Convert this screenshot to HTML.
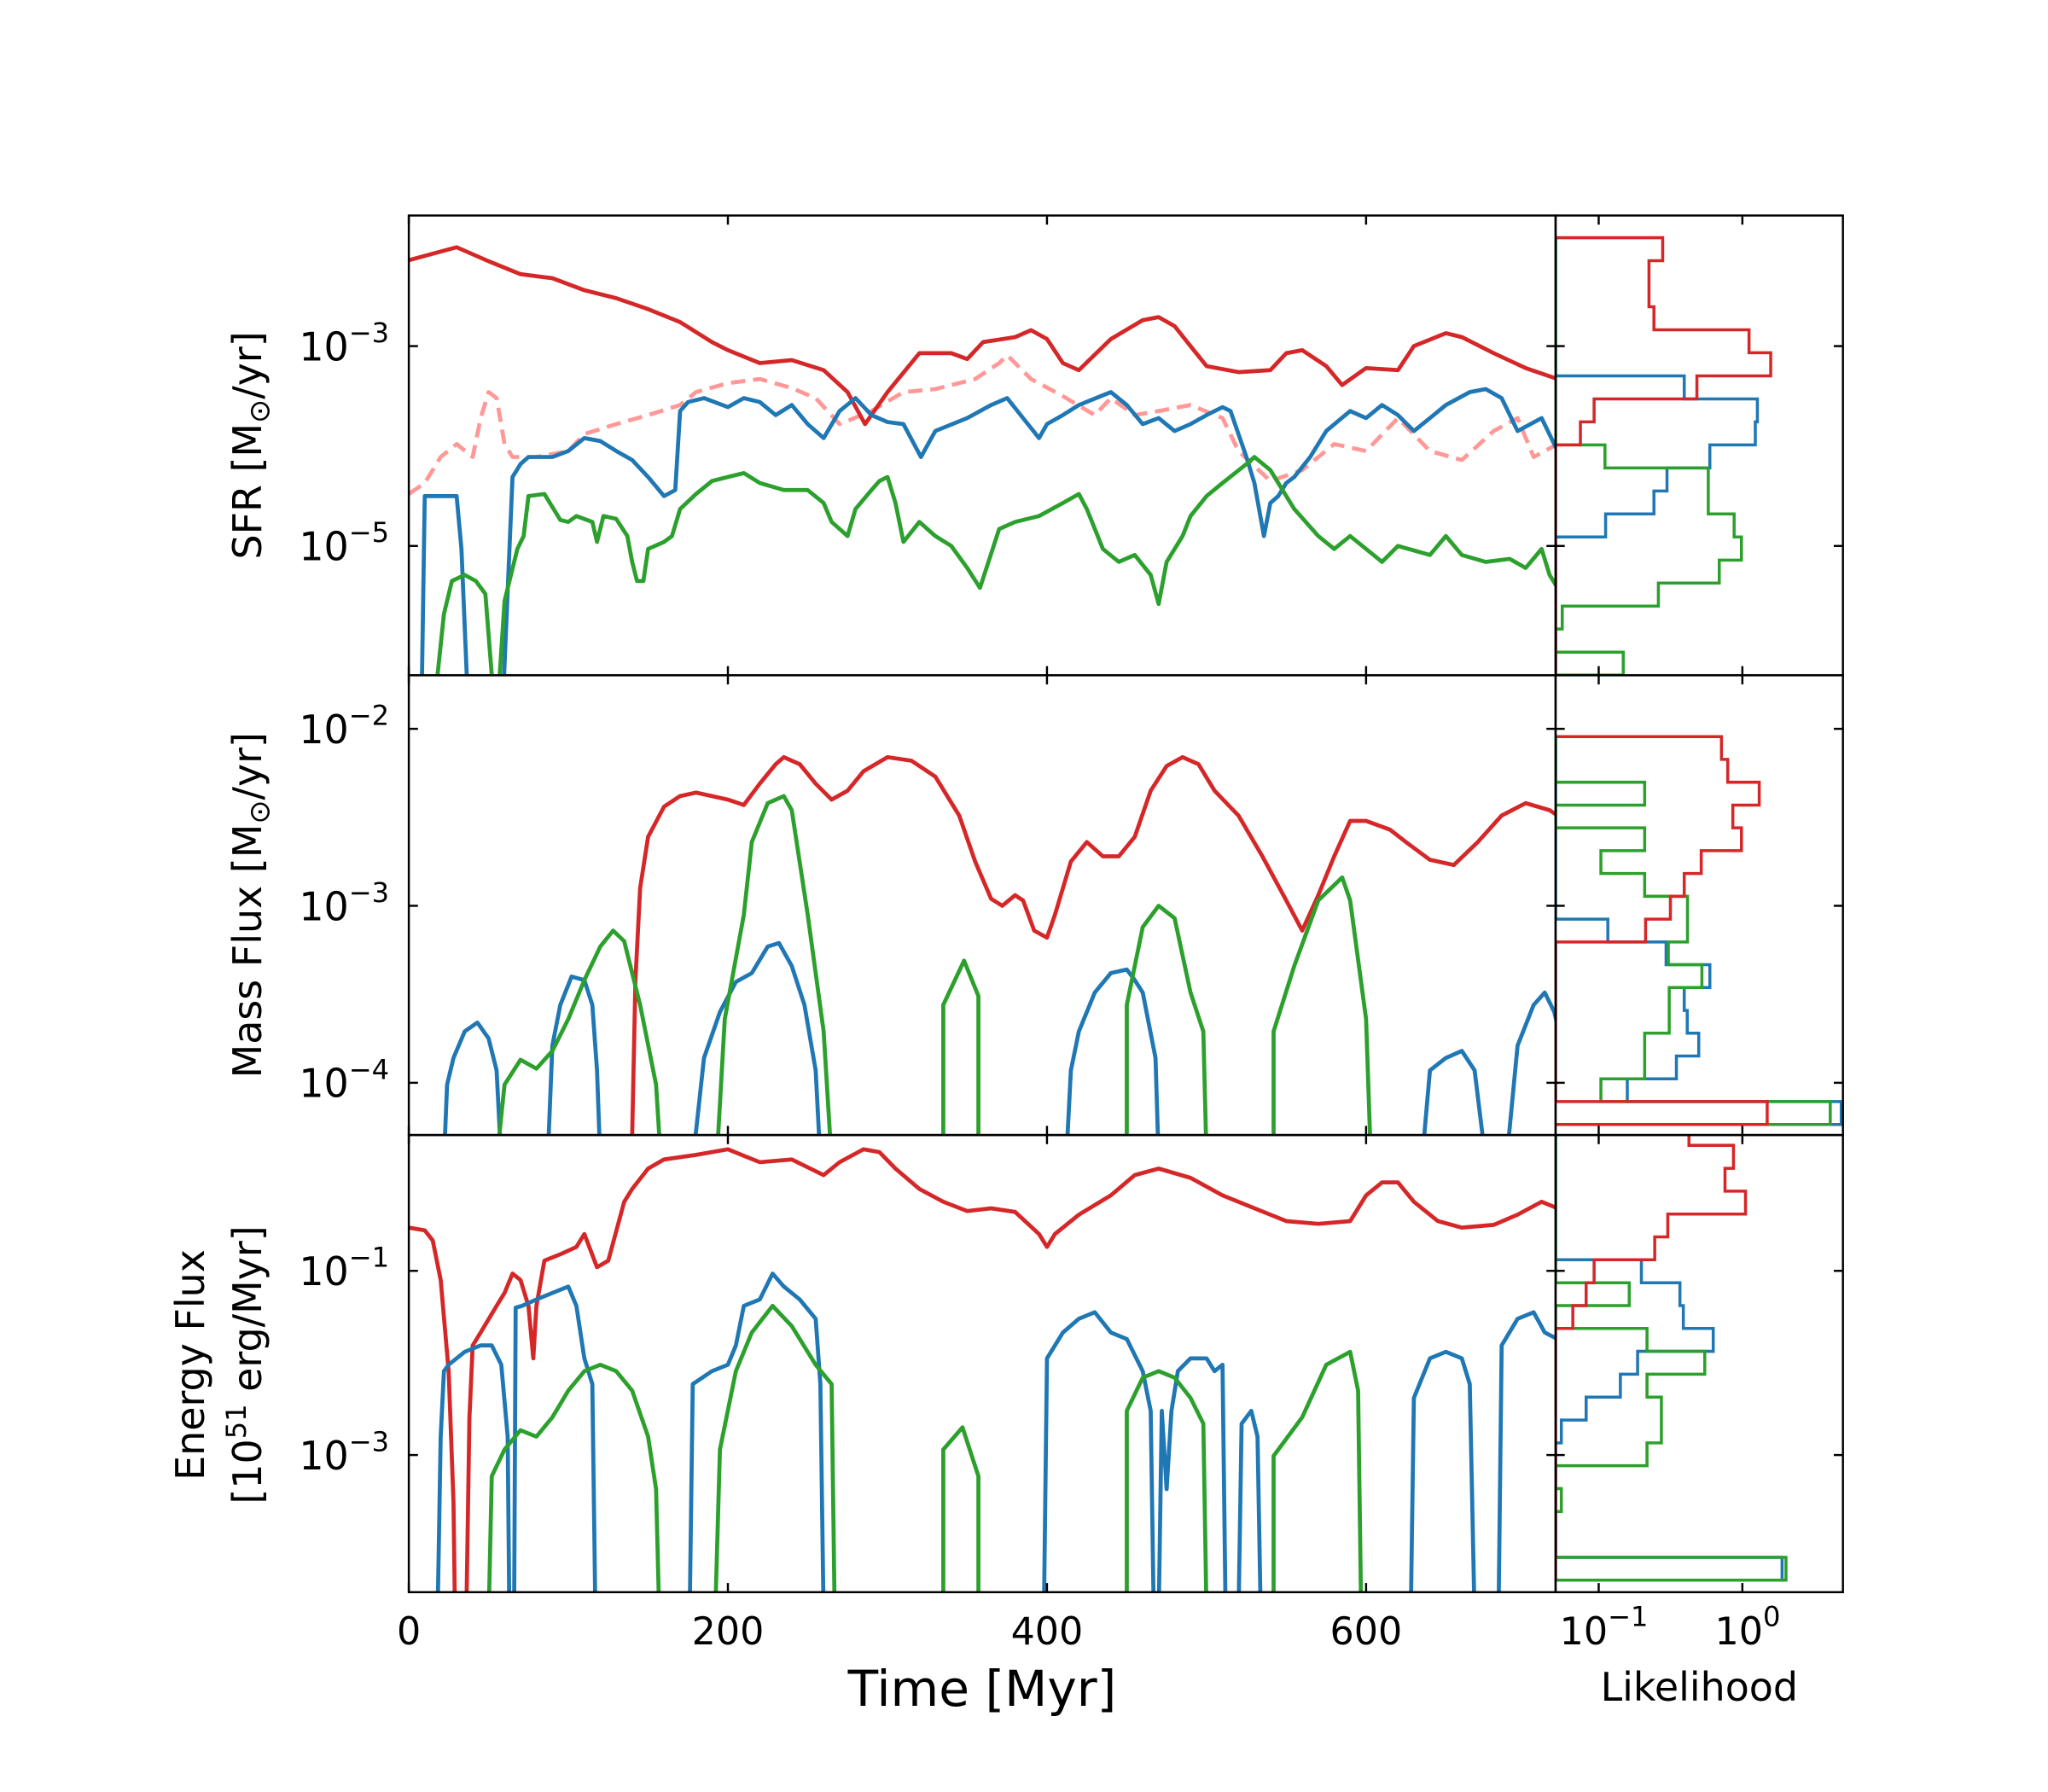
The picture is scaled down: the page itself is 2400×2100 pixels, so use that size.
<!DOCTYPE html>
<html><head><meta charset="utf-8"><style>
html,body{margin:0;padding:0;background:#fff;}
svg{display:block;}
text{font-family:"DejaVu Sans","Liberation Sans",sans-serif;fill:#000;}
</style></head><body>
<svg id="chart" xmlns="http://www.w3.org/2000/svg" width="2400" height="2100" viewBox="0 0 1568 1372" preserveAspectRatio="none">
<defs>
<clipPath id="c1"><rect x="313" y="165" width="878" height="352"/></clipPath>
<clipPath id="c2"><rect x="313" y="517" width="878" height="352"/></clipPath>
<clipPath id="c3"><rect x="313" y="869" width="878" height="350"/></clipPath>
<clipPath id="h1"><rect x="1191" y="165" width="220" height="352"/></clipPath>
<clipPath id="h2"><rect x="1191" y="517" width="220" height="352"/></clipPath>
<clipPath id="h3"><rect x="1191" y="869" width="220" height="350"/></clipPath>
</defs>
<g id="marks"></g>
<g id="axes"></g>
<g id="labels">
<text x="0" y="0" font-size="30" text-anchor="middle" transform="translate(200,341) rotate(-90)">SFR [M<tspan font-size="22" dy="6">⊙</tspan><tspan dy="-6">/yr]</tspan></text>
<text x="0" y="0" font-size="30" text-anchor="middle" transform="translate(200,693) rotate(-90)">Mass Flux [M<tspan font-size="22" dy="6">⊙</tspan><tspan dy="-6">/yr]</tspan></text>
<text x="0" y="0" font-size="30" text-anchor="middle" transform="translate(156,1045) rotate(-90)">Energy Flux</text>
<text x="0" y="0" font-size="30" text-anchor="middle" transform="translate(200,1045) rotate(-90)">[10<tspan font-size="21" dy="-12">51</tspan><tspan dy="12"> erg/Myr]</tspan></text>
<text x="752" y="1306" font-size="38" text-anchor="middle">Time [Myr]</text>
<text x="1301" y="1302" font-size="30" text-anchor="middle">Likelihood</text>
</g>
</svg>
<script>
// ---------- data (log10 values) ----------
const sfrRed=[[0,-2.14],[30,-2.01],[50,-2.15],[70,-2.28],[90,-2.32],[110,-2.44],[130,-2.52],[150,-2.63],[170,-2.76],[190,-2.96],[200,-3.04],[220,-3.17],[240,-3.14],[260,-3.24],[275,-3.46],[286,-3.78],[300,-3.46],[320,-3.07],[340,-3.07],[350,-3.13],[360,-2.96],[380,-2.91],[390,-2.84],[400,-2.93],[410,-3.17],[420,-3.24],[440,-2.93],[460,-2.74],[470,-2.71],[480,-2.80],[490,-3.00],[500,-3.20],[520,-3.26],[540,-3.24],[550,-3.07],[560,-3.04],[575,-3.20],[585,-3.39],[600,-3.22],[620,-3.24],[630,-3.00],[650,-2.87],[660,-2.91],[680,-3.07],[700,-3.22],[720,-3.33]];
const sfrPink=[[0,-4.48],[10,-4.37],[20,-4.11],[30,-3.98],[40,-4.11],[45,-3.72],[50,-3.46],[55,-3.52],[60,-3.98],[65,-4.11],[80,-4.11],[100,-4.05],[110,-3.88],[130,-3.78],[150,-3.69],[170,-3.59],[180,-3.46],[200,-3.37],[220,-3.33],[240,-3.42],[255,-3.52],[270,-3.78],[290,-3.65],[310,-3.46],[330,-3.43],[340,-3.39],[355,-3.33],[370,-3.17],[375,-3.09],[390,-3.33],[410,-3.50],[430,-3.69],[440,-3.52],[455,-3.69],[470,-3.65],[490,-3.59],[510,-3.72],[520,-4.05],[540,-4.35],[560,-4.24],[580,-3.98],[600,-4.05],[620,-3.72],[640,-4.05],[660,-4.14],[680,-3.85],[695,-3.72],[705,-4.11],[720,-3.98]];
const sfrBlue=[[8,-9],[10,-4.50],[30,-4.50],[33,-5.03],[37,-9],[59,-9],[65,-4.31],[70,-4.18],[75,-4.11],[90,-4.11],[100,-4.05],[110,-3.92],[120,-3.95],[130,-4.05],[140,-4.14],[150,-4.31],[160,-4.50],[167,-4.44],[170,-3.65],[175,-3.56],[185,-3.52],[200,-3.61],[210,-3.52],[220,-3.56],[230,-3.69],[240,-3.59],[250,-3.78],[260,-3.92],[270,-3.65],[280,-3.52],[290,-3.69],[300,-3.76],[310,-3.78],[321,-4.11],[330,-3.85],[350,-3.72],[365,-3.59],[375,-3.52],[385,-3.72],[395,-3.92],[400,-3.78],[410,-3.69],[420,-3.59],[440,-3.46],[450,-3.59],[460,-3.78],[470,-3.72],[480,-3.85],[490,-3.78],[500,-3.69],[510,-3.61],[515,-3.65],[525,-4.11],[530,-4.37],[536,-4.90],[540,-4.57],[545,-4.50],[550,-4.37],[555,-4.31],[565,-4.11],[575,-3.85],[590,-3.65],[600,-3.72],[610,-3.59],[620,-3.69],[630,-3.85],[640,-3.72],[650,-3.59],[665,-3.46],[675,-3.43],[685,-3.52],[695,-3.85],[710,-3.72],[720,-4.05]];
const sfrGreen=[[16,-9],[18,-6.29],[22,-5.68],[27,-5.35],[35,-5.29],[42,-5.35],[48,-5.48],[52,-6.29],[53,-9],[55,-9],[57,-6.29],[60,-5.55],[68,-5.03],[72,-4.90],[75,-4.50],[85,-4.48],[95,-4.74],[100,-4.76],[105,-4.70],[115,-4.76],[118,-4.96],[122,-4.70],[130,-4.73],[137,-4.90],[140,-5.16],[143,-5.35],[147,-5.35],[150,-5.03],[160,-4.96],[165,-4.90],[170,-4.63],[180,-4.48],[190,-4.35],[200,-4.31],[210,-4.27],[220,-4.37],[235,-4.44],[250,-4.44],[260,-4.57],[265,-4.76],[270,-4.83],[275,-4.90],[280,-4.63],[290,-4.44],[295,-4.35],[300,-4.31],[305,-4.57],[310,-4.96],[320,-4.76],[330,-4.90],[340,-5.00],[350,-5.22],[358,-5.42],[370,-4.83],[380,-4.76],[395,-4.70],[410,-4.57],[420,-4.48],[425,-4.63],[435,-5.03],[445,-5.16],[455,-5.09],[465,-5.29],[470,-5.58],[475,-5.16],[485,-4.90],[490,-4.70],[500,-4.50],[510,-4.37],[525,-4.18],[530,-4.11],[540,-4.24],[555,-4.63],[570,-4.90],[580,-5.03],[590,-4.90],[600,-5.03],[610,-5.16],[620,-5.00],[640,-5.09],[650,-4.90],[660,-5.09],[675,-5.16],[690,-5.13],[700,-5.22],[710,-5.03],[715,-5.29],[720,-5.42]];
const massRed=[[139,-9],[140,-4.3],[142,-3.42],[145,-2.90],[150,-2.61],[160,-2.44],[170,-2.38],[180,-2.36],[200,-2.40],[210,-2.43],[220,-2.31],[230,-2.20],[235,-2.16],[245,-2.20],[255,-2.31],[265,-2.40],[275,-2.35],[285,-2.24],[300,-2.16],[315,-2.18],[330,-2.27],[345,-2.49],[355,-2.75],[365,-2.96],[372,-3.00],[380,-2.94],[385,-2.97],[392,-3.14],[400,-3.18],[405,-3.05],[415,-2.75],[425,-2.64],[435,-2.72],[445,-2.72],[455,-2.61],[465,-2.35],[475,-2.21],[485,-2.16],[495,-2.20],[505,-2.35],[520,-2.49],[535,-2.72],[550,-2.97],[560,-3.14],[570,-2.94],[580,-2.72],[590,-2.52],[600,-2.52],[615,-2.57],[625,-2.64],[640,-2.74],[655,-2.77],[670,-2.64],[685,-2.49],[700,-2.42],[715,-2.46],[720,-2.49]];
const massBlue=[[22,-9],[24,-4.01],[28,-3.86],[35,-3.71],[43,-3.66],[50,-3.75],[55,-3.93],[58,-9],[87,-9],[90,-3.79],[95,-3.56],[102,-3.40],[110,-3.42],[115,-3.56],[118,-3.93],[120,-9],[178,-9],[185,-3.86],[195,-3.60],[205,-3.43],[215,-3.38],[225,-3.23],[232,-3.21],[240,-3.34],[248,-3.56],[255,-3.93],[258,-9],[412,-9],[415,-3.93],[420,-3.71],[430,-3.49],[440,-3.38],[450,-3.36],[455,-3.42],[460,-3.49],[468,-3.86],[470,-9],[635,-9],[640,-3.93],[650,-3.86],[660,-3.82],[668,-3.93],[675,-9],[688,-9],[695,-3.79],[705,-3.56],[712,-3.49],[718,-3.60],[720,-3.68]];
const massGreen=[[55,-9],[60,-4.01],[70,-3.87],[80,-3.92],[90,-3.82],[100,-3.64],[110,-3.42],[120,-3.23],[128,-3.14],[135,-3.20],[145,-3.56],[155,-4.01],[158,-9],[193,-9],[198,-3.64],[210,-3.05],[215,-2.64],[225,-2.42],[235,-2.38],[240,-2.46],[250,-3.05],[260,-3.71],[265,-9],[335,-9],[335,-3.56],[348,-3.31],[357,-3.51],[357,-9],[450,-9],[450,-3.56],[460,-3.12],[470,-3.00],[480,-3.07],[490,-3.49],[498,-3.71],[500,-9],[542,-9],[542,-3.71],[555,-3.34],[570,-2.97],[585,-2.84],[590,-2.97],[600,-3.64],[603,-9]];
const energyRed=[[0,-0.53],[10,-0.56],[15,-0.67],[20,-1.10],[25,-2.09],[28,-3.51],[29,-9],[36,-9],[38,-2.6],[40,-1.81],[45,-1.67],[55,-1.38],[60,-1.24],[65,-1.03],[70,-1.10],[75,-1.38],[78,-1.95],[80,-1.38],[85,-0.89],[95,-0.82],[105,-0.74],[110,-0.60],[118,-0.96],[125,-0.89],[135,-0.25],[140,-0.11],[150,0.11],[160,0.21],[180,0.26],[200,0.32],[210,0.25],[220,0.18],[240,0.21],[260,0.04],[270,0.18],[285,0.32],[295,0.29],[305,0.11],[320,-0.11],[335,-0.25],[350,-0.35],[365,-0.32],[380,-0.36],[395,-0.60],[400,-0.74],[405,-0.60],[420,-0.39],[440,-0.18],[455,0.04],[470,0.11],[490,0.01],[510,-0.18],[530,-0.32],[550,-0.46],[570,-0.49],[590,-0.46],[600,-0.18],[610,-0.04],[620,-0.04],[630,-0.25],[645,-0.46],[660,-0.53],[680,-0.50],[695,-0.39],[710,-0.25],[720,-0.32]];
const energyBlue=[[18,-9],[20,-2.80],[22,-2.09],[25,-2.02],[35,-1.88],[45,-1.81],[52,-1.81],[58,-2.02],[62,-2.80],[63,-9],[66,-9],[67,-1.40],[71,-1.38],[80,-1.31],[90,-1.24],[100,-1.17],[105,-1.38],[110,-1.95],[115,-2.23],[117,-9],[176,-9],[178,-2.23],[190,-2.09],[200,-2.02],[205,-1.81],[210,-1.38],[220,-1.31],[228,-1.03],[235,-1.17],[245,-1.31],[255,-1.52],[258,-2.23],[260,-9],[398,-9],[400,-1.95],[410,-1.67],[420,-1.52],[430,-1.45],[440,-1.67],[450,-1.74],[460,-2.09],[465,-2.52],[467,-9],[470,-9],[472,-2.52],[475,-3.37],[478,-2.52],[482,-2.09],[490,-1.95],[500,-1.95],[505,-2.09],[510,-2.02],[512,-9],[520,-9],[522,-2.66],[528,-2.52],[532,-2.80],[534,-9],[628,-9],[630,-2.38],[640,-1.95],[650,-1.88],[660,-1.95],[665,-2.23],[668,-9],[683,-9],[685,-1.81],[695,-1.52],[705,-1.45],[712,-1.67],[720,-1.74]];
const energyGreen=[[50,-9],[52,-3.23],[60,-2.94],[70,-2.73],[80,-2.80],[90,-2.59],[100,-2.30],[110,-2.09],[120,-2.02],[130,-2.09],[140,-2.30],[150,-2.80],[155,-3.37],[157,-9],[192,-9],[195,-2.94],[205,-2.09],[215,-1.67],[228,-1.38],[240,-1.60],[255,-2.02],[265,-2.23],[267,-9],[335,-9],[335,-2.94],[347,-2.70],[357,-3.23],[357,-9],[450,-9],[450,-2.52],[460,-2.16],[470,-2.09],[480,-2.16],[490,-2.38],[498,-2.66],[500,-9],[542,-9],[542,-3.01],[560,-2.59],[575,-2.02],[590,-1.88],[595,-2.30],[597,-9]];
// histogram bins: top edge (log10), bin width (dex), log10 likelihood per bin from top (null = empty)
const hist1Edges=[-1.915,0.2304];
const hist1Red=[-0.555,-0.65,-0.65,-0.615,0.046,0.197,-0.316,-1.032,-1.127,null,null,null,null,null,null,null,null,null,null];
const hist1Blue=[null,null,null,null,null,null,-0.405,0.105,0.09,-0.226,-0.525,-0.615,-0.952,null,null,null,null,null,null];
const hist1Green=[null,null,null,null,null,null,null,null,null,-0.956,-0.237,-0.237,-0.057,-0.006,-0.161,-0.585,-1.254,null,-0.829];
const hist2Edges=[-2.044,0.1289];
const hist2Red=[-0.145,-0.102,0.117,-0.066,-0.006,-0.286,-0.405,-0.501,-0.674,null,null,null,null,null,null,null,0.173];
const hist2Blue=[null,null,null,null,null,null,null,null,-0.936,-0.531,-0.226,-0.405,-0.384,-0.304,-0.459,-0.801,0.688];
const hist2Green=[null,null,-0.68,null,-0.68,-0.985,-0.68,-0.382,-0.382,-0.515,-0.282,-0.509,-0.509,-0.68,-0.68,-0.985,0.612];
const hist3Edges=[0.611,0.2485];
const hist3Red=[-0.372,-0.062,-0.121,0.022,-0.519,-0.61,-1.032,-1.087,-1.18,null,null,null,null,null,null,null,null,null,null,null];
const hist3Blue=[null,null,null,null,null,null,-0.703,-0.435,-0.411,-0.203,-0.729,-0.849,-1.087,-1.26,null,null,null,null,null,0.276];
const hist3Green=[null,null,null,null,null,null,null,-0.787,null,-0.664,-0.262,-0.664,-0.564,-0.564,-0.664,null,-1.26,null,null,0.304];
const timeTicks=[0,200,400,600];
const histTicks=[-1,0];
const histTickLabels=['10','10'];
const histTickExps=['−1','0'];

// ---------- axes ----------
const NS='http://www.w3.org/2000/svg';
const X0=313,X1=1191,H0=1191,H1=1411;
const xT=t=>X0+t*1.2215;
const xH=l=>l===null?H0:Math.max(H0,1224+(l+1)*110);
const panels=[
 {top:165,bot:517,ref:-3,refY:265,pd:76.5,clip:'c1',hclip:'h1',ticks:[-3,-5],name:'sfr'},
 {top:517,bot:869,ref:-2,refY:558,pd:135.5,clip:'c2',hclip:'h2',ticks:[-2,-3,-4],name:'mass-flux'},
 {top:869,bot:1219,ref:-1,refY:973,pd:70.5,clip:'c3',hclip:'h3',ticks:[-1,-3],name:'energy-flux'}
];
panels.forEach(p=>{p.y=v=>p.refY+(p.ref-v)*p.pd;});
const marks=document.getElementById('marks'),axes=document.getElementById('axes');
function el(tag,attrs,parent){const e=document.createElementNS(NS,tag);for(const k in attrs)e.setAttribute(k,attrs[k]);parent.appendChild(e);return e;}

function line(p,data,color,name,dash){
  const d=data.map((q,i)=>(i?'L':'M')+xT(q[0]).toFixed(1)+','+Math.min(p.y(q[1]),p.bot+20).toFixed(1)).join('');
  const e=el('path',{d:d,fill:'none',stroke:color,'stroke-width':3.1,'stroke-linejoin':'round','clip-path':'url(#'+p.clip+')'},marks);
  if(dash)e.setAttribute('stroke-dasharray',dash);
  
  
}
function hist(p,edges,vals,color,name){
  let top=edges[0],w=edges[1];
  let pts=[[H0,p.y(top)]];
  vals.forEach((v,i)=>{const a=p.y(top-i*w),b=p.y(top-(i+1)*w),x=xH(v);pts.push([x,a]);pts.push([x,b]);});
  pts.push([H0,p.y(top-vals.length*w)]);
  const d=pts.map((q,i)=>(i?'L':'M')+q[0].toFixed(1)+','+q[1].toFixed(1)).join('');
  const e=el('path',{d:d,fill:'none',stroke:color,'stroke-width':2.3,'clip-path':'url(#'+p.hclip+')'},marks);
  
  
}
const R='#d62728',B='#1f77b4',G='#2ca02c',P='#ff9896';
line(panels[0],sfrPink,P,'sfr-dashed-line','11,6');
line(panels[0],sfrRed,R,'sfr-red-line');
line(panels[0],sfrBlue,B,'sfr-blue-line');
line(panels[0],sfrGreen,G,'sfr-green-line');
line(panels[1],massRed,R,'mass-flux-red-line');
line(panels[1],massBlue,B,'mass-flux-blue-line');
line(panels[1],massGreen,G,'mass-flux-green-line');
line(panels[2],energyRed,R,'energy-flux-red-line');
line(panels[2],energyBlue,B,'energy-flux-blue-line');
line(panels[2],energyGreen,G,'energy-flux-green-line');
hist(panels[0],hist1Edges,hist1Blue,B,'sfr-hist-blue');
hist(panels[0],hist1Edges,hist1Green,G,'sfr-hist-green');
hist(panels[0],hist1Edges,hist1Red,R,'sfr-hist-red');
hist(panels[1],hist2Edges,hist2Blue,B,'mass-hist-blue');
hist(panels[1],hist2Edges,hist2Green,G,'mass-hist-green');
hist(panels[1],hist2Edges,hist2Red,R,'mass-hist-red');
hist(panels[2],hist3Edges,hist3Blue,B,'energy-hist-blue');
hist(panels[2],hist3Edges,hist3Green,G,'energy-hist-green');
hist(panels[2],hist3Edges,hist3Red,R,'energy-hist-red');

const TL=7;
panels.forEach((p,pi)=>{
  [[X0,X1,'main'],[H0,H1,'hist']].forEach(([a,b,k])=>{
    const r=el('rect',{x:a,y:p.top,width:b-a,height:p.bot-p.top,fill:'none',stroke:'#000','stroke-width':1.6},axes);
    
    
  });
  p.ticks.forEach(v=>{
    const y=p.y(v);
    [[X0,1],[X1,-1],[H0,1],[H1,-1]].forEach(([x,s])=>{
      el('line',{x1:x,y1:y,x2:x+s*TL,y2:y,stroke:'#000','stroke-width':1.6},axes);
    });
    const t=el('text',{x:298,y:y+11,'font-size':30,'text-anchor':'end'},axes);
    
    
    t.appendChild(document.createTextNode('10'));
    const s=el('tspan',{dy:-14,'font-size':21},t);
    s.textContent='−'+Math.abs(v);
  });
  timeTicks.forEach(v=>{
    const x=xT(v);
    el('line',{x1:x,y1:p.top,x2:x,y2:p.top+TL,stroke:'#000','stroke-width':1.6},axes);
    el('line',{x1:x,y1:p.bot,x2:x,y2:p.bot-TL,stroke:'#000','stroke-width':1.6},axes);
  });
  histTicks.forEach(v=>{
    const x=xH(v);
    el('line',{x1:x,y1:p.top,x2:x,y2:p.top+TL,stroke:'#000','stroke-width':1.6},axes);
    el('line',{x1:x,y1:p.bot,x2:x,y2:p.bot-TL,stroke:'#000','stroke-width':1.6},axes);
  });
});
timeTicks.forEach(v=>{
  const t=el('text',{x:xT(v),y:1259,'font-size':29,'text-anchor':'middle'},axes);
  
  
  t.textContent=String(v);
});
histTicks.forEach((v,i)=>{
  const t=el('text',{x:xH(v)+4,y:1259,'font-size':29,'text-anchor':'middle'},axes);
  
  
  t.appendChild(document.createTextNode(histTickLabels[i]));
  const s=el('tspan',{dy:-14,'font-size':21},t);
  s.textContent=histTickExps[i];
});
</script>
</body></html>
